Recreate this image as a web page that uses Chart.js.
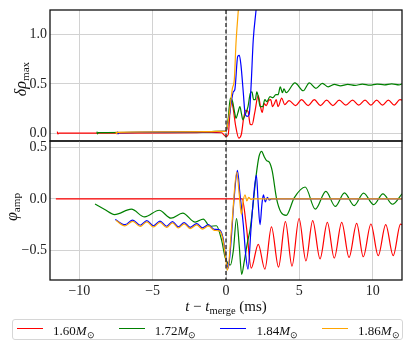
<!DOCTYPE html>
<html>
<head>
<meta charset="utf-8">
<script src="https://cdn.jsdelivr.net/npm/chart.js@4.4.0/dist/chart.umd.min.js"></script>
<style>
  body { margin: 0; background: #fff; }
  #wrap { position: relative; width: 415px; height: 346px; background: #fff; font-family: 'Liberation Serif', 'Times New Roman', serif; color: #111; }
  canvas { position: absolute; left: 0; }
  .lab { position: absolute; white-space: nowrap; line-height: 1; }
  .lab i { font-style: italic; }
  sub { font-size: 0.7em; vertical-align: -0.3em; line-height: 0; }
  #legend { position: absolute; left: 12px; top: 319px; width: 391px; height: 21px; box-sizing: border-box; border: 1px solid #d6d6d6; border-radius: 3px; }
  .item { position: absolute; top: 0; height: 19px; font-size: 13px; }
  .item .ln { position: absolute; top: 8px; width: 26px; height: 0; border-top: 1.3px solid; }
  .item .tx { position: absolute; left: 36px; top: 3px; white-space: nowrap; }
</style>
</head>
<body>
<div id="wrap">
  <canvas id="topChart" width="415" height="143" style="top:0"></canvas>
  <canvas id="botChart" width="415" height="210" style="top:136px"></canvas>
  <div class="lab" id="ylabTop" style="left:21px;top:79px;font-size:16px;transform:translate(-50%,-50%) rotate(-90deg)"><i>δρ</i><sub>max</sub></div>
  <div class="lab" id="ylabBot" style="left:12px;top:207px;font-size:16px;transform:translate(-50%,-50%) rotate(-90deg)"><i>φ</i><sub>amp</sub></div>
  <div class="lab" id="xlab" style="left:226px;top:306px;font-size:15px;transform:translate(-50%,-50%)"><i>t</i> − <i>t</i><sub>merge</sub> (ms)</div>
  <div id="legend"></div>
</div>
<script>
// series: neutron star masses
const masses = ['1.60', '1.72', '1.84', '1.86'];
const colors = ['#ff0000', '#008000', '#0000ff', '#ffa500'];

const xTicks = [-10, -5, 0, 5, 10];
const rhoTicks = [0, 0.5, 1.0];
const ampTicks = [-0.5, 0, 0.5];
const mergeT = 0;

// top panel: delta rho_max
const redRhoT = [-11.5, -11.47, -11.4, -8, -4, -2, -1, -0.3, 0.0, 0.15, 0.35, 0.5, 0.65, 0.87, 1.05, 1.2, 1.35, 1.5, 1.65, 1.78, 1.95, 2.2, 2.35, 2.47, 2.6, 2.75, 2.9, 3.05, 3.17, 3.3, 3.42, 3.55, 3.8, 4.0, 4.3, 4.75, 5.15, 5.6, 6.02, 6.44, 6.86, 7.29, 7.72, 8.17, 8.63, 9.05, 9.48, 9.88, 10.27, 10.67, 11.07, 11.47, 11.86, 12.0];
const redRhoY = [0.016, -0.008, 0.0, 0.0, 0.003, 0.006, 0.008, 0.004, -0.035, -0.015, 0.34, 0.24, 0.08, -0.05, -0.01, 0.15, 0.23, 0.22, 0.09, 0.085, 0.2, 0.38, 0.27, 0.21, 0.3, 0.28, 0.33, 0.34, 0.27, 0.3, 0.34, 0.27, 0.355, 0.29, 0.33, 0.28, 0.34, 0.28, 0.34, 0.28, 0.335, 0.28, 0.335, 0.285, 0.335, 0.285, 0.335, 0.285, 0.335, 0.285, 0.335, 0.285, 0.34, 0.335];

const greenRhoT = [-8.8, -8.77, -8.7, -6, -3, -1, -0.2, 0.0, 0.15, 0.3, 0.45, 0.6, 0.68, 0.8, 0.95, 1.05, 1.15, 1.3, 1.5, 1.65, 1.77, 1.88, 2.0, 2.1, 2.2, 2.33, 2.5, 2.65, 2.78, 3.0, 3.2, 3.4, 3.55, 3.7, 3.85, 3.95, 4.1, 4.7, 5.27, 5.68, 6.13, 6.57, 6.97, 7.4, 7.8, 8.3, 8.8, 9.3, 9.8, 10.3, 10.8, 11.3, 11.8, 12.0];
const greenRhoY = [0.016, -0.008, 0.005, 0.008, 0.012, 0.016, 0.018, 0.02, 0.15, 0.355, 0.32, 0.2, 0.15, 0.2, 0.27, 0.2, 0.135, 0.185, 0.27, 0.4, 0.42, 0.34, 0.34, 0.42, 0.37, 0.27, 0.27, 0.34, 0.32, 0.37, 0.36, 0.39, 0.39, 0.47, 0.41, 0.45, 0.41, 0.51, 0.43, 0.51, 0.455, 0.505, 0.47, 0.495, 0.48, 0.495, 0.485, 0.498, 0.487, 0.498, 0.49, 0.5, 0.49, 0.5];

const blueRhoT = [-7.4, -7.37, -7.3, -4, -1, -0.2, 0.0, 0.2, 0.39, 0.5, 0.6, 0.8, 0.91, 1.02, 1.18, 1.3, 1.45, 1.58, 1.7, 1.86, 2.05, 2.2];
const blueRhoY = [0.016, -0.008, 0.005, 0.01, 0.014, 0.017, 0.018, 0.15, 0.34, 0.42, 0.44, 0.78, 0.79, 0.69, 0.41, 0.2, 0.17, 0.19, 0.45, 0.95, 1.25, 1.5];

const orangeRhoT = [-7.5, -7.47, -7.4, -4, -1, -0.2, 0.0, 0.15, 0.27, 0.43, 0.57, 0.68, 0.84, 1.0];
const orangeRhoY = [0.016, -0.008, 0.008, 0.012, 0.016, 0.018, 0.02, 0.12, 0.25, 0.45, 0.55, 0.91, 1.25, 1.6];

// bottom panel: phi_amp
const redAmpT = [-11.6, -5, 0, 1.1, 1.4, 1.72, 2.2, 2.65, 3.1, 3.58, 4.05, 4.5, 4.98, 5.45, 5.91, 6.41, 6.91, 7.38, 7.89, 8.39, 8.91, 9.36, 9.88, 10.38, 10.89, 11.4, 11.9, 12.0];
const redAmpY = [0, 0, 0, 0, -0.28, -0.67, -0.44, -0.68, -0.27, -0.66, -0.22, -0.65, -0.19, -0.6, -0.21, -0.58, -0.227, -0.573, -0.227, -0.567, -0.237, -0.56, -0.243, -0.55, -0.25, -0.55, -0.245, -0.25];

const greenAmpT = [-8.93, -8.3, -7.6, -6.45, -5.55, -4.55, -3.75, -2.95, -2.1, -1.55, -1.1, -0.65, -0.3, -0.05, 0.3, 0.5, 0.72, 0.9, 1.07, 1.25, 1.45, 1.65, 1.85, 2.05, 2.25, 2.43, 2.6, 2.77, 2.95, 3.15, 3.45, 3.75, 4.1, 4.65, 5.4, 6.09, 6.81, 7.45, 8.08, 8.74, 9.38, 10.07, 10.7, 11.35, 12.0];
const greenAmpY = [-0.05, -0.1, -0.152, -0.1, -0.175, -0.11, -0.187, -0.138, -0.225, -0.195, -0.265, -0.26, -0.4, -0.57, -0.64, -0.5, -0.19, -0.45, -0.73, -0.6, -0.43, -0.29, -0.05, 0.22, 0.41, 0.46, 0.41, 0.37, 0.355, 0.27, 0.0, -0.13, -0.16, 0.01, 0.115, -0.1, 0.073, -0.073, 0.058, -0.065, 0.056, -0.056, 0.049, -0.052, 0.049];

const blueAmpT = [-7.55, -6.89, -6.36, -5.85, -5.4, -4.95, -4.5, -4.05, -3.65, -3.25, -2.85, -2.45, -2.0, -1.6, -1.2, -0.8, -0.45, -0.2, 0.0, 0.15, 0.35, 0.55, 0.78, 0.95, 1.18, 1.35, 1.5, 1.7, 1.9, 2.07, 2.2, 2.32, 2.45, 2.55, 2.68, 2.82, 2.95, 3.1, 12.0];
const blueAmpY = [-0.2, -0.25, -0.205, -0.255, -0.21, -0.26, -0.215, -0.265, -0.22, -0.27, -0.23, -0.275, -0.24, -0.28, -0.25, -0.295, -0.3, -0.38, -0.58, -0.67, -0.4, 0.0, 0.275, 0.05, -0.25, -0.55, -0.68, -0.3, 0.05, 0.23, -0.05, -0.25, -0.05, 0.04, -0.03, 0.015, -0.01, 0.0, 0.0];

const orangeAmpT = [-7.5, -6.89, -6.36, -5.85, -5.4, -4.95, -4.5, -4.05, -3.65, -3.25, -2.85, -2.45, -2.0, -1.6, -1.2, -0.8, -0.45, -0.2, 0.0, 0.1, 0.4, 0.73, 0.9, 1.05, 1.17, 1.3, 1.42, 1.55, 1.7, 1.85, 12.0];
const orangeAmpY = [-0.21, -0.262, -0.217, -0.267, -0.222, -0.272, -0.227, -0.277, -0.232, -0.282, -0.242, -0.287, -0.252, -0.292, -0.262, -0.305, -0.31, -0.4, -0.6, -0.69, -0.25, 0.26, 0.05, -0.15, -0.02, 0.04, -0.02, 0.015, -0.005, 0.0, 0.0];

Chart.defaults.font.family = "'Liberation Serif', 'Times New Roman', serif";
Chart.defaults.font.size = 14;
Chart.defaults.color = '#222';

function series(i, t, y) {
  return {
    label: masses[i],
    data: t.map((v, k) => ({ x: v, y: y[k] })),
    borderColor: colors[i],
    borderWidth: 1.2,
    pointRadius: 0,
    fill: false,
    cubicInterpolationMode: 'monotone',
    order: 4 - i
  };
}

function fmt(v, dec) {
  const s = Math.abs(v).toFixed(dec);
  return (v < 0 ? '\u2212' : '') + s;
}

// frame around each panel and the dashed merger line
const framePlugin = {
  id: 'frame',
  afterDatasetsDraw(chart) {
    const { ctx, chartArea: a } = chart;
    const zx = chart.scales.x.getPixelForValue(mergeT);
    ctx.save();
    ctx.strokeStyle = '#222';
    ctx.lineWidth = 1.3;
    ctx.setLineDash([4, 2.5]);
    ctx.beginPath();
    ctx.moveTo(zx, a.top);
    ctx.lineTo(zx, a.bottom);
    ctx.stroke();
    ctx.setLineDash([]);
    ctx.strokeStyle = '#111';
    ctx.strokeRect(a.left, a.top, a.right - a.left, a.bottom - a.top);
    ctx.restore();
  }
};

const gridColor = '#d2d2d2';

// keep the axes from reserving extra room for half tick labels
function noPad(s) {
  s.paddingTop = 0;
  s.paddingBottom = 0;
  s.paddingLeft = 0;
  s.paddingRight = 0;
}

function xScale(showTicks) {
  return {
    type: 'linear', min: -12, max: 12,
    afterBuildTicks: s => { s.ticks = xTicks.map(v => ({ value: v })); },
    ticks: { display: showTicks, padding: 3, callback: v => fmt(v, 0) },
    grid: { color: gridColor, drawTicks: false },
    border: { display: false },
    afterFit: s => { s.height = showTicks ? 66 : 0; noPad(s); }
  };
}

function yScale(min, max, ticks) {
  return {
    min: min, max: max,
    afterBuildTicks: s => { s.ticks = ticks.map(v => ({ value: v })); },
    ticks: { padding: 3, callback: v => fmt(v, 1) },
    grid: { color: gridColor, drawTicks: false },
    border: { display: false },
    afterFit: s => { s.width = 50; noPad(s); }
  };
}

new Chart(document.getElementById('topChart'), {
  type: 'line',
  data: {
    datasets: [
      series(0, redRhoT, redRhoY),
      series(1, greenRhoT, greenRhoY),
      series(2, blueRhoT, blueRhoY),
      series(3, orangeRhoT, orangeRhoY)
    ]
  },
  options: {
    responsive: false,
    animation: false,
    layout: { padding: { top: 10, right: 13, bottom: 2, left: 0 } },
    plugins: { legend: { display: false }, tooltip: { enabled: false } },
    scales: { x: xScale(false), y: yScale(-0.08, 1.25, rhoTicks) }
  },
  plugins: [framePlugin]
});

new Chart(document.getElementById('botChart'), {
  type: 'line',
  data: {
    datasets: [
      series(0, redAmpT, redAmpY),
      series(1, greenAmpT, greenAmpY),
      series(2, blueAmpT, blueAmpY),
      series(3, orangeAmpT, orangeAmpY)
    ]
  },
  options: {
    responsive: false,
    animation: false,
    layout: { padding: { top: 5, right: 13, bottom: 0, left: 0 } },
    plugins: { legend: { display: false }, tooltip: { enabled: false } },
    scales: { x: xScale(true), y: yScale(-0.785, 0.56, ampTicks) }
  },
  plugins: [framePlugin]
});

// legend
const legend = document.getElementById('legend');
masses.forEach((m, i) => {
  const item = document.createElement('div');
  item.className = 'item';
  item.style.left = (4 + i * 101.7) + 'px';
  item.innerHTML = '<span class="ln" style="border-color:' + colors[i] + '"></span>' +
    '<span class="tx">' + m + '<i>M</i><sub>\u2299</sub></span>';
  legend.appendChild(item);
});
</script>
</body>
</html>
